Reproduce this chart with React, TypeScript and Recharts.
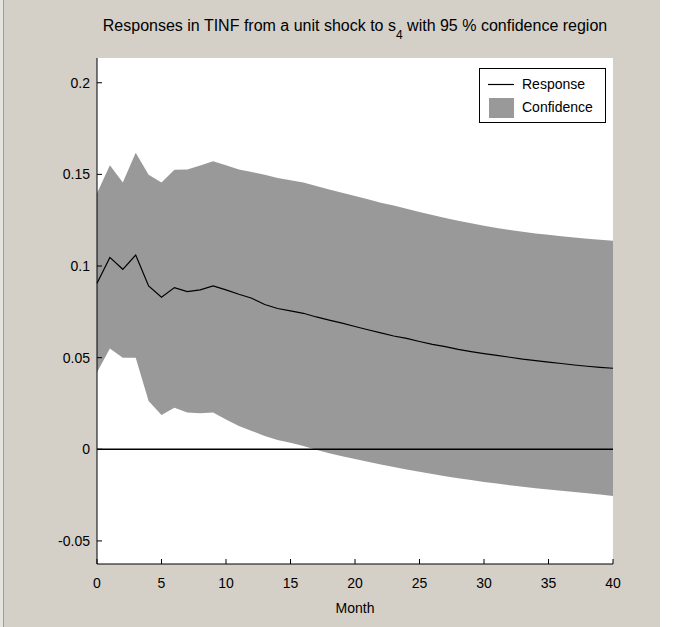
import { ComposedChart, Area, Line, XAxis, YAxis, CartesianGrid, ReferenceLine, Legend } from "recharts";

// impulse response of TINF to a unit shock in s4, monthly horizon
const months = [
  0, 1, 2, 3, 4, 5, 6, 7, 8, 9, 10, 11, 12, 13, 14, 15, 16, 17, 18, 19, 20,
  21, 22, 23, 24, 25, 26, 27, 28, 29, 30, 31, 32, 33, 34, 35, 36, 37, 38, 39, 40,
];

const response = [
  0.0906, 0.1047, 0.0982, 0.106, 0.0891, 0.083, 0.0882, 0.086, 0.087, 0.0891, 0.087,
  0.0846, 0.0824, 0.079, 0.0768, 0.0755, 0.0742, 0.0722, 0.0705, 0.0688, 0.067,
  0.0652, 0.0635, 0.0618, 0.0605, 0.0588, 0.0572, 0.056, 0.0545, 0.0533, 0.0522,
  0.0512, 0.0502, 0.0492, 0.0484, 0.0476, 0.0468, 0.046, 0.0453, 0.0447, 0.0442,
];

const upper = [
  0.1397, 0.155, 0.1455, 0.1618, 0.1498, 0.1455, 0.1525, 0.1527, 0.1549, 0.1572, 0.155,
  0.1527, 0.1513, 0.1498, 0.148, 0.1468, 0.1455, 0.1437, 0.1418, 0.14, 0.1382,
  0.1364, 0.1345, 0.133, 0.1312, 0.1295, 0.1278, 0.1262, 0.1247, 0.1233, 0.122,
  0.1208, 0.1197, 0.1187, 0.1178, 0.117, 0.1162, 0.1155, 0.1149, 0.1143, 0.1138,
];

const lower = [
  0.042, 0.055, 0.05, 0.05, 0.0263, 0.0187, 0.0226, 0.02, 0.0196, 0.02, 0.0163,
  0.0127, 0.01, 0.0072, 0.005, 0.0035, 0.0018, -0.0003, -0.0022, -0.0038, -0.0053,
  -0.0068, -0.0083, -0.0097, -0.011, -0.0122, -0.0135, -0.0147, -0.0158, -0.0168, -0.0178,
  -0.0187, -0.0196, -0.0204, -0.0212, -0.0219, -0.0226, -0.0233, -0.024, -0.0247, -0.0255,
];

const xTicks = [0, 5, 10, 15, 20, 25, 30, 35, 40];
const yTicks = [-0.05, 0, 0.05, 0.1, 0.15, 0.2];

const data = months.map((m, i) => ({
  month: m,
  response: response[i],
  band: [lower[i], upper[i]],
}));

const FONT = "'Liberation Sans', Arial, sans-serif";
const PANEL = "#d4d0c8";
const BAND = "#999999";

function LegendBox() {
  return (
    <svg width={128} height={56} style={{ display: "block" }}>
      <rect x={0.5} y={0.5} width={126} height={54} fill="#fff" stroke="#000" strokeWidth={1} />
      <line x1={9} x2={35} y1={16.5} y2={16.5} stroke="#000" strokeWidth={1.2} />
      <rect x={10} y={30} width={25} height={20} fill={BAND} />
      <text x={43} y={21} fontFamily={FONT} fontSize={14} fill="#000">Response</text>
      <text x={43} y={44} fontFamily={FONT} fontSize={14} fill="#000">Confidence</text>
    </svg>
  );
}

export default function App() {
  return (
    <div style={{ position: "absolute", left: 0, top: 0, width: 673, height: 627, background: "#fff" }}>
      <div style={{ position: "absolute", left: 0, top: 0, width: 660, height: 627, background: PANEL }} />
      <div style={{ position: "absolute", left: 0, top: 0, width: 3, height: 627, background: "#e6e4df" }} />
      <div style={{ position: "absolute", left: 3, top: 0, width: 1, height: 627, background: "#a09d97" }} />

      <div
        style={{
          position: "absolute",
          left: 0,
          top: 18,
          width: 710,
          textAlign: "center",
          fontFamily: FONT,
          fontSize: 16,
          lineHeight: "16px",
          color: "#000",
          whiteSpace: "nowrap",
        }}
      >
        Responses in TINF from a unit shock to s
        <span style={{ fontSize: 12, position: "relative", top: 8 }}>4</span> with 95 % confidence region
      </div>

      <div style={{ position: "absolute", left: 0, top: 0 }}>
        <ComposedChart width={673} height={627} data={data} margin={{ top: 58, right: 60, bottom: 0, left: 37 }}>
          <CartesianGrid horizontal={false} vertical={false} fill="#fff" />
          <XAxis
            dataKey="month"
            type="number"
            domain={[0, 40]}
            ticks={xTicks}
            interval={0}
            height={63}
            tickSize={-5}
            tickMargin={19}
            axisLine={{ stroke: "#000" }}
            tickLine={{ stroke: "#000" }}
            tick={{ fill: "#000", fontSize: 14, fontFamily: FONT }}
            label={{ value: "Month", position: "insideBottom", offset: 14, fill: "#000", fontSize: 14, fontFamily: FONT }}
          />
          <YAxis
            type="number"
            domain={[-0.0626, 0.2135]}
            ticks={yTicks}
            interval={0}
            width={60}
            tickSize={-5}
            tickMargin={12}
            axisLine={{ stroke: "#000" }}
            tickLine={{ stroke: "#000" }}
            tick={{ fill: "#000", fontSize: 14, fontFamily: FONT }}
          />
          <Area
            type="linear"
            dataKey="band"
            name="Confidence"
            fill={BAND}
            fillOpacity={1}
            stroke="none"
            activeDot={false}
            isAnimationActive={false}
          />
          <ReferenceLine y={0} stroke="#000" strokeWidth={1.3} />
          <Line
            type="linear"
            dataKey="response"
            name="Response"
            stroke="#000"
            strokeWidth={1.2}
            dot={false}
            activeDot={false}
            isAnimationActive={false}
          />
          <Legend
            layout="horizontal"
            verticalAlign="middle"
            align="center"
            content={() => <LegendBox />}
            wrapperStyle={{ left: 479, top: 68, width: 128, height: 56 }}
          />
        </ComposedChart>
      </div>
    </div>
  );
}
